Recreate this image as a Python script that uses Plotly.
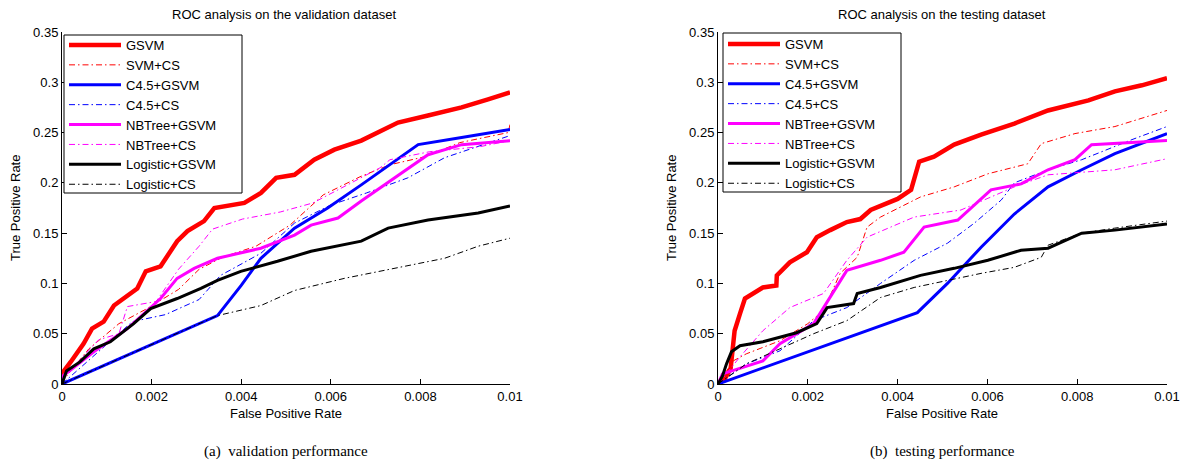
import plotly.graph_objects as go

names = ["GSVM", "SVM+CS", "C4.5+GSVM", "C4.5+CS", "NBTree+GSVM", "NBTree+CS", "Logistic+GSVM", "Logistic+CS"]

# ---------------- validation dataset ----------------
val_gsvm_x = [0, 0.00002, 0.00019, 0.00048, 0.00067, 0.00093, 0.00116, 0.00138, 0.00168, 0.00187, 0.0022, 0.00257, 0.0028, 0.00317, 0.0034, 0.00407, 0.00444, 0.00478, 0.00519, 0.00563, 0.00608, 0.00668, 0.00713, 0.0075, 0.00817, 0.00892, 0.00951, 0.01]
val_gsvm_y = [0, 0.0117, 0.0217, 0.040, 0.055, 0.062, 0.078, 0.085, 0.095, 0.112, 0.117, 0.142, 0.152, 0.162, 0.175, 0.180, 0.190, 0.205, 0.208, 0.223, 0.233, 0.242, 0.252, 0.260, 0.267, 0.275, 0.283, 0.290]

val_svmcs_x = [0, 0.00005, 0.0006, 0.00127, 0.0019, 0.0026, 0.00306, 0.00358, 0.00433, 0.00509, 0.00583, 0.00665, 0.00732, 0.0081, 0.00888, 0.00996, 0.01]
val_svmcs_y = [0, 0.005, 0.035, 0.060, 0.075, 0.094, 0.114, 0.126, 0.137, 0.158, 0.188, 0.206, 0.218, 0.226, 0.240, 0.250, 0.258]

val_c45g_x = [0, 0.00347, 0.004, 0.00444, 0.00519, 0.00593, 0.00668, 0.00743, 0.00795, 0.00892, 0.01]
val_c45g_y = [0, 0.068, 0.098, 0.125, 0.155, 0.175, 0.198, 0.222, 0.238, 0.245, 0.253]

val_c45cs_x = [0, 0.0005, 0.00157, 0.00231, 0.00306, 0.00354, 0.00444, 0.00519, 0.006, 0.0068, 0.00772, 0.00854, 0.01]
val_c45cs_y = [0, 0.020, 0.062, 0.069, 0.084, 0.108, 0.130, 0.160, 0.178, 0.190, 0.205, 0.225, 0.247]

val_nbg_x = [0, 0.00002, 0.00071, 0.00146, 0.0022, 0.00257, 0.00295, 0.00347, 0.00444, 0.00519, 0.00556, 0.00616, 0.00668, 0.00743, 0.00817, 0.00892, 0.01]
val_nbg_y = [0, 0.008, 0.032, 0.055, 0.085, 0.105, 0.115, 0.125, 0.135, 0.148, 0.158, 0.165, 0.182, 0.205, 0.228, 0.238, 0.242]

val_nbcs_x = [0, 0.00002, 0.00082, 0.00127, 0.00146, 0.0021, 0.0026, 0.00306, 0.00336, 0.00403, 0.00487, 0.0056, 0.0071, 0.00732, 0.00821, 0.00933, 0.01]
val_nbcs_y = [0, 0.006, 0.044, 0.050, 0.077, 0.082, 0.114, 0.137, 0.154, 0.164, 0.171, 0.180, 0.215, 0.223, 0.231, 0.236, 0.242]

val_logg_x = [0, 0.0001, 0.0004, 0.00071, 0.00108, 0.00146, 0.0016, 0.00198, 0.00257, 0.0031, 0.00347, 0.00399, 0.00481, 0.00556, 0.00668, 0.00728, 0.00817, 0.00929, 0.01]
val_logg_y = [0, 0.013, 0.022, 0.035, 0.042, 0.055, 0.060, 0.075, 0.085, 0.095, 0.103, 0.112, 0.122, 0.132, 0.142, 0.155, 0.163, 0.170, 0.177]

val_logcs_x = [0, 0.00347, 0.00444, 0.00519, 0.0063, 0.00743, 0.00854, 0.00929, 0.01]
val_logcs_y = [0, 0.068, 0.078, 0.093, 0.105, 0.115, 0.125, 0.137, 0.145]

# ---------------- testing dataset ----------------
tst_gsvm_x = [0, 0.00015, 0.00028, 0.00037, 0.00049, 0.0006, 0.001, 0.0013, 0.00131, 0.0016, 0.00198, 0.0022, 0.0025, 0.00287, 0.00317, 0.0034, 0.004, 0.0043, 0.00448, 0.00481, 0.00526, 0.00586, 0.0066, 0.00735, 0.00825, 0.00884, 0.00944, 0.01]
tst_gsvm_y = [0, 0.005, 0.015, 0.053, 0.070, 0.085, 0.096, 0.098, 0.108, 0.121, 0.131, 0.146, 0.153, 0.161, 0.164, 0.173, 0.184, 0.193, 0.221, 0.226, 0.238, 0.248, 0.259, 0.272, 0.282, 0.291, 0.297, 0.304]

tst_svmcs_x = [0, 0.00034, 0.00063, 0.00138, 0.002, 0.00235, 0.00272, 0.0031, 0.00332, 0.00362, 0.00451, 0.00526, 0.00601, 0.0069, 0.0072, 0.00795, 0.00884, 0.00944, 0.01]
tst_svmcs_y = [0, 0.023, 0.030, 0.043, 0.060, 0.073, 0.110, 0.126, 0.156, 0.166, 0.186, 0.196, 0.209, 0.219, 0.239, 0.249, 0.256, 0.264, 0.272]

tst_c45g_x = [0, 0.00444, 0.00511, 0.00586, 0.0066, 0.00735, 0.0081, 0.00884, 0.01]
tst_c45g_y = [0, 0.071, 0.100, 0.136, 0.169, 0.196, 0.213, 0.229, 0.249]

tst_c45cs_x = [0, 0.00063, 0.00138, 0.00213, 0.00287, 0.00362, 0.00437, 0.00511, 0.00571, 0.00631, 0.0066, 0.00735, 0.0081, 0.00922, 0.01]
tst_c45cs_y = [0, 0.020, 0.033, 0.063, 0.076, 0.100, 0.123, 0.140, 0.160, 0.183, 0.200, 0.213, 0.223, 0.243, 0.256]

tst_nbg_x = [0, 0.0001, 0.001, 0.00138, 0.00213, 0.00235, 0.00287, 0.00362, 0.00414, 0.00459, 0.00534, 0.00608, 0.00675, 0.00735, 0.00795, 0.00832, 0.01]
tst_nbg_y = [0, 0.010, 0.023, 0.040, 0.060, 0.076, 0.113, 0.123, 0.131, 0.156, 0.163, 0.193, 0.199, 0.213, 0.223, 0.238, 0.242]

tst_nbcs_x = [0, 0.00049, 0.001, 0.0016, 0.00235, 0.00287, 0.00332, 0.00437, 0.00541, 0.00608, 0.0066, 0.00735, 0.00884, 0.01]
tst_nbcs_y = [0, 0.027, 0.053, 0.076, 0.090, 0.123, 0.146, 0.166, 0.173, 0.186, 0.196, 0.208, 0.213, 0.224]

tst_logg_x = [0, 0.0001, 0.00019, 0.0003, 0.00049, 0.001, 0.00175, 0.0022, 0.00243, 0.00302, 0.0031, 0.00362, 0.00451, 0.00526, 0.00601, 0.00675, 0.00735, 0.0081, 0.00884, 0.01]
tst_logg_y = [0, 0.008, 0.020, 0.032, 0.038, 0.042, 0.051, 0.060, 0.076, 0.080, 0.090, 0.096, 0.108, 0.115, 0.123, 0.133, 0.135, 0.150, 0.153, 0.159]

tst_logcs_x = [0, 0.00063, 0.00138, 0.00213, 0.00287, 0.00362, 0.00437, 0.00511, 0.00586, 0.0066, 0.0072, 0.00735, 0.0081, 0.00884, 0.01]
tst_logcs_y = [0, 0.020, 0.035, 0.050, 0.063, 0.086, 0.096, 0.103, 0.110, 0.116, 0.126, 0.138, 0.150, 0.155, 0.162]

x_tickvals = [0, 0.002, 0.004, 0.006, 0.008, 0.01]
x_ticktext = ["0", "0.002", "0.004", "0.006", "0.008", "0.01"]
y_tickvals = [0, 0.05, 0.1, 0.15, 0.2, 0.25, 0.3, 0.35]
y_ticktext = ["0", "0.05", "0.1", "0.15", "0.2", "0.25", "0.3", "0.35"]

colors = ["#ff0000", "#ff0000", "#0000ff", "#0000ff", "#ff00ff", "#ff00ff", "#000000", "#000000"]
widths = [4.5, 1, 3, 1, 3, 1, 3, 1]
dd = "6px,3px,1.5px,3px"
dashes = ["solid", dd, "solid", dd, "solid", dd, "solid", dd]

val_series = [(val_gsvm_x, val_gsvm_y), (val_svmcs_x, val_svmcs_y), (val_c45g_x, val_c45g_y), (val_c45cs_x, val_c45cs_y),
              (val_nbg_x, val_nbg_y), (val_nbcs_x, val_nbcs_y), (val_logg_x, val_logg_y), (val_logcs_x, val_logcs_y)]
tst_series = [(tst_gsvm_x, tst_gsvm_y), (tst_svmcs_x, tst_svmcs_y), (tst_c45g_x, tst_c45g_y), (tst_c45cs_x, tst_c45cs_y),
              (tst_nbg_x, tst_nbg_y), (tst_nbcs_x, tst_nbcs_y), (tst_logg_x, tst_logg_y), (tst_logcs_x, tst_logcs_y)]

fig = go.Figure()
for i, (xs, ys) in enumerate(val_series):
    fig.add_trace(go.Scatter(x=xs, y=ys, mode="lines", name=names[i], xaxis="x", yaxis="y", legend="legend",
                             line=dict(color=colors[i], width=widths[i], dash=dashes[i])))
for i, (xs, ys) in enumerate(tst_series):
    fig.add_trace(go.Scatter(x=xs, y=ys, mode="lines", name=names[i], xaxis="x2", yaxis="y2", legend="legend2",
                             line=dict(color=colors[i], width=widths[i], dash=dashes[i])))

W, H = 1181, 468
def px(v): return v / W
def py(v): return 1 - v / H

FONT = "Liberation Sans, Arial, Helvetica"
axis_common = dict(showgrid=False, zeroline=False, showline=True, linecolor="black", linewidth=1, automargin=False,
                   ticks="inside", ticklen=5, tickcolor="black", tickfont=dict(family=FONT, size=13, color="black"))

legend_common = dict(xanchor="left", yanchor="top", bgcolor="rgba(0,0,0,0)", borderwidth=0,
                     font=dict(size=13, family=FONT, color="black"), tracegroupgap=0, itemwidth=52)

fig.update_layout(
    width=W, height=H, margin=dict(l=0, r=0, t=0, b=0, autoexpand=False),
    plot_bgcolor="white", paper_bgcolor="white",
    font=dict(family=FONT, color="black"),
    xaxis=dict(domain=[px(62), px(510)], range=[0, 0.01], anchor="y", tickvals=x_tickvals, ticktext=x_ticktext, **axis_common),
    yaxis=dict(domain=[py(384), py(32)], range=[0, 0.35], anchor="x", tickvals=y_tickvals, ticktext=y_ticktext, **axis_common),
    xaxis2=dict(domain=[px(718), px(1167)], range=[0, 0.01], anchor="y2", tickvals=x_tickvals, ticktext=x_ticktext, **axis_common),
    yaxis2=dict(domain=[py(384), py(32)], range=[0, 0.35], anchor="x2", tickvals=y_tickvals, ticktext=y_ticktext, **axis_common),
    legend=dict(x=px(64), y=py(30), **legend_common),
    legend2=dict(x=px(723), y=py(29), **legend_common),
    showlegend=True,
)

# legend frames
fig.add_shape(type="rect", xref="paper", yref="paper", x0=px(64), x1=px(242), y0=py(193), y1=py(35),
              line=dict(color="black", width=1), fillcolor="white", layer="above")
fig.add_shape(type="rect", xref="paper", yref="paper", x0=px(723), x1=px(901), y0=py(192), y1=py(33),
              line=dict(color="black", width=1), fillcolor="white", layer="above")

annots = [
    dict(x=px(284), y=py(15), text="ROC analysis on the validation dataset", font=dict(size=13)),
    dict(x=px(942), y=py(15), text="ROC analysis on the testing dataset", font=dict(size=13)),
    dict(x=px(286), y=py(413), text="False Positive Rate", font=dict(size=13)),
    dict(x=px(942), y=py(413), text="False Positive Rate", font=dict(size=13)),
    dict(x=px(15), y=py(208), text="True Positive Rate", font=dict(size=13), textangle=-90),
    dict(x=px(671), y=py(208), text="True Positive Rate", font=dict(size=13), textangle=-90),
    dict(x=px(286), y=py(451), text="(a)  validation performance", font=dict(size=15, family="Liberation Serif, Times New Roman")),
    dict(x=px(942), y=py(451), text="(b)  testing performance", font=dict(size=15, family="Liberation Serif, Times New Roman")),
]
for a in annots:
    fig.add_annotation(xref="paper", yref="paper", showarrow=False, xanchor="center", yanchor="middle", **a)

# remove the default 8px page margin so the 1181x468 figure fills the window exactly
fig.write_html("out.html", config={"displayModeBar": False},
               post_script="document.body.style.margin='0';document.body.style.overflow='hidden';")
